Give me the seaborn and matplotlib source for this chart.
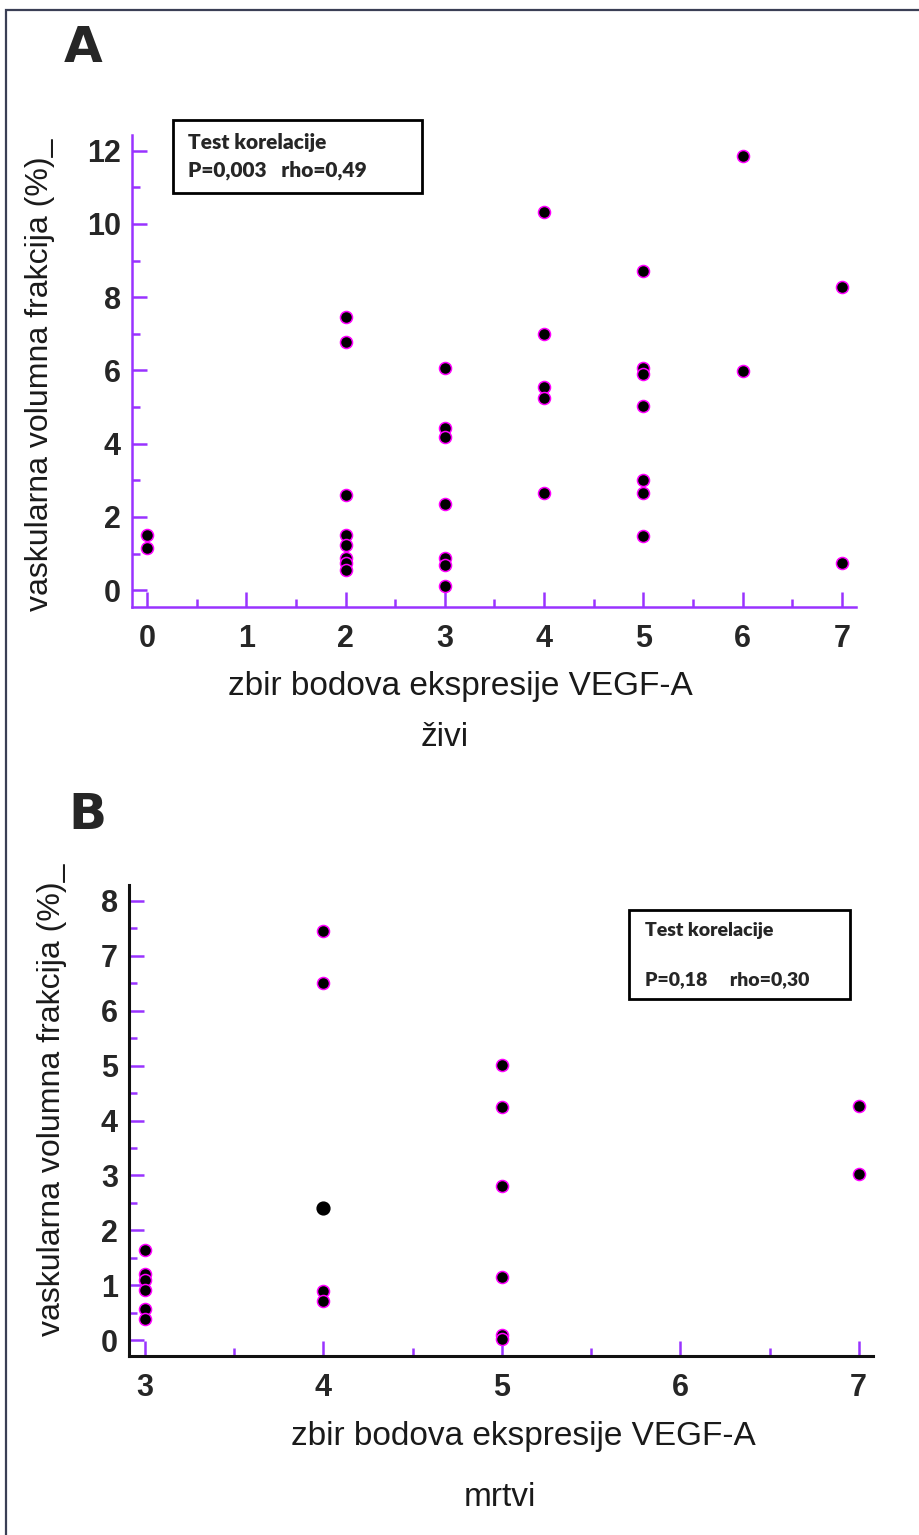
import matplotlib
matplotlib.use("Agg")
import matplotlib.pyplot as plt
from matplotlib.patches import Rectangle
from matplotlib.ticker import MultipleLocator
import seaborn as sns
import pandas as pd

# panel A - zivi
a_x = [0, 0,
       2, 2, 2, 2, 2, 2, 2, 2,
       3, 3, 3, 3, 3, 3, 3,
       4, 4, 4, 4, 4,
       5, 5, 5, 5, 5, 5, 5,
       6, 6,
       7, 7]
a_y = [1.50, 1.14,
       7.47, 6.78, 2.60, 1.50, 1.23, 0.87, 0.73, 0.55,
       6.06, 4.42, 4.19, 2.35, 0.87, 0.68, 0.11,
       10.34, 6.99, 5.56, 5.24, 2.64,
       8.72, 6.06, 5.90, 5.03, 3.02, 2.64, 1.48,
       11.87, 5.99,
       8.29, 0.73]

# panel B - mrtvi
b_x = [3, 3, 3, 3, 3, 3,
       4, 4, 4, 4,
       5, 5, 5, 5, 5, 5,
       7, 7]
b_y = [1.64, 1.21, 1.09, 0.92, 0.56, 0.38,
       7.45, 6.51, 0.90, 0.71,
       5.01, 4.24, 2.80, 1.15, 0.10, 0.02,
       4.27, 3.02]
b_x_dark = [4]
b_y_dark = [2.40]

xlabel = "zbir bodova ekspresije VEGF-A"
ylabel = "vaskularna volumna frakcija (%)_"

df_a = pd.DataFrame({"x": a_x, "y": a_y})
df_b = pd.DataFrame({"x": b_x, "y": b_y})
df_b2 = pd.DataFrame({"x": b_x_dark, "y": b_y_dark})

sns.set_style("white")
plt.rcParams["font.family"] = ["Liberation Sans", "DejaVu Sans"]

W, H = 920, 1535
fig = plt.figure(figsize=(W / 100, H / 100), dpi=100)
purple = "#9933ff"
magenta = "#ff00ff"

def px_axes(l, t, r, b):
    return fig.add_axes([l / W, 1 - b / H, (r - l) / W, (b - t) / H])

# outer frame
fig.patches.append(Rectangle((6 / W, -0.01), 1.0, 1 - 10 / H + 0.01,
                             transform=fig.transFigure, fill=False,
                             edgecolor="#3a3f55", lw=1.6))

def style_axes(ax, spine_col, spine_w):
    for s in ["top", "right"]:
        ax.spines[s].set_visible(False)
    for s in ["left", "bottom"]:
        ax.spines[s].set_color(spine_col)
        ax.spines[s].set_linewidth(spine_w)
    ax.tick_params(which="both", direction="in", color=purple, width=1.8,
                   bottom=True, left=True, labelsize=22)
    ax.tick_params(which="major", length=11)
    ax.tick_params(which="minor", length=6)
    ax.tick_params(axis="x", pad=12)
    ax.tick_params(axis="y", pad=8)
    for lab in ax.get_xticklabels() + ax.get_yticklabels():
        lab.set_fontweight("bold")
    ax.set_xlabel("")
    ax.set_ylabel("")

# ---- A ----
ax1 = px_axes(132, 135, 856, 607)
sns.scatterplot(data=df_a, x="x", y="y", ax=ax1, color="black",
                edgecolor=magenta, linewidth=1.1, s=75, zorder=3)
ax1.set_xlim(-0.15, 7.14)
ax1.set_ylim(-0.46, 12.43)
ax1.xaxis.set_major_locator(MultipleLocator(1))
ax1.xaxis.set_minor_locator(MultipleLocator(0.5))
ax1.yaxis.set_major_locator(MultipleLocator(2))
ax1.yaxis.set_minor_locator(MultipleLocator(1))
style_axes(ax1, purple, 1.8)

# ---- B ----
ax2 = px_axes(129, 885, 873, 1356)
sns.scatterplot(data=df_b, x="x", y="y", ax=ax2, color="black",
                edgecolor=magenta, linewidth=1.1, s=75, zorder=3)
sns.scatterplot(data=df_b2, x="x", y="y", ax=ax2, color="black",
                edgecolor="black", linewidth=1.0, s=85, zorder=3)
ax2.set_xlim(2.91, 7.08)
ax2.set_ylim(-0.29, 8.29)
ax2.xaxis.set_major_locator(MultipleLocator(1))
ax2.xaxis.set_minor_locator(MultipleLocator(0.5))
ax2.yaxis.set_major_locator(MultipleLocator(1))
ax2.yaxis.set_minor_locator(MultipleLocator(0.5))
style_axes(ax2, "#111111", 2.2)

# labels
lab_kw = dict(fontsize=23, color="#1a1a1a", ha="center", va="center")
fig.text(40 / W, 1 - 375 / H, ylabel, rotation=90, **lab_kw)
fig.text(52 / W, 1 - 1100 / H, ylabel, rotation=90, **lab_kw)
lab_kw["fontsize"] = 24
fig.text(460 / W, 1 - 686 / H, xlabel, **lab_kw)
fig.text(445 / W, 1 - 738 / H, "živi", **lab_kw)
fig.text(523 / W, 1 - 1436 / H, xlabel, **lab_kw)
fig.text(500 / W, 1 - 1497 / H, "mrtvi", **lab_kw)

fig.text(83 / W, 1 - 48 / H, "A", fontsize=36, fontweight="heavy",
         ha="center", va="center", family="DejaVu Sans")
fig.text(87 / W, 1 - 815 / H, "B", fontsize=36, fontweight="heavy",
         ha="center", va="center", family="DejaVu Sans")

# correlation boxes
box_kw = dict(transform=fig.transFigure, fill=False, edgecolor="black", lw=2)
fig.patches.append(Rectangle((173 / W, 1 - 193 / H), 249 / W, 73 / H, **box_kw))
fig.patches.append(Rectangle((629 / W, 1 - 999 / H), 221 / W, 89 / H, **box_kw))
txt_kw = dict(fontweight="heavy", family="Lato", ha="left", va="center")
fig.text(188 / W, 1 - 143 / H, "Test korelacije", fontsize=15, **txt_kw)
fig.text(188 / W, 1 - 170 / H, "P=0,003   rho=0,49", fontsize=15, **txt_kw)
fig.text(645 / W, 1 - 930 / H, "Test korelacije", fontsize=14, **txt_kw)
fig.text(645 / W, 1 - 980 / H, "P=0,18     rho=0,30", fontsize=14, **txt_kw)

fig.savefig("out.png", dpi=100)
